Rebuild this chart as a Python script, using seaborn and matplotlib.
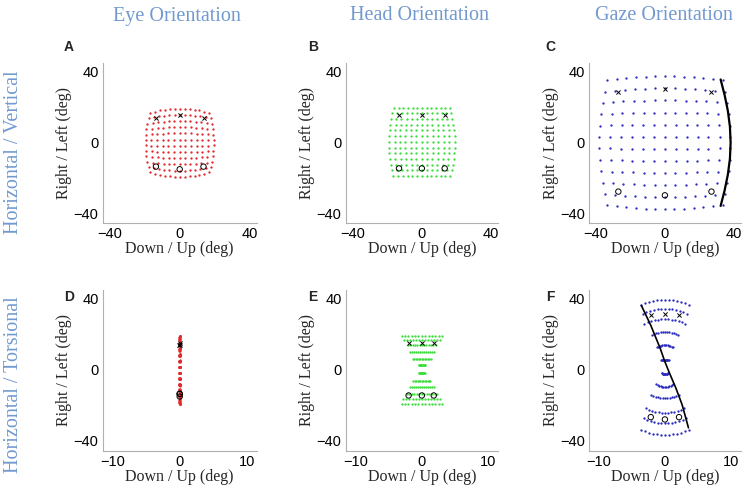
import numpy as np
import matplotlib
matplotlib.use("Agg")
import matplotlib.pyplot as plt
import seaborn as sns
import pandas as pd

# ---------------- data ----------------
# Eye (A / D): 13 columns x 12 rows grid, barrel-shaped
eye_cols = [-19.5, -16.25, -13.0, -9.75, -6.5, -3.25, 0.0, 3.25, 6.5, 9.75, 13.0, 16.25, 19.5]
eye_rows = [19.3, 15.8, 12.3, 8.8, 5.3, 1.75, -1.75, -5.3, -8.8, -12.3, -15.8, -19.3]
eye_shrink_x = 0.13
eye_shrink_y = 0.13
eye_torsion = [0.06, 0.05, 0.04, 0.03, 0.02, 0.01, 0.0, -0.01, -0.02, -0.03, -0.04, -0.05, -0.06]

# Head (B)
head_cols = [-19.0, -15.8, -12.7, -9.5, -6.3, -3.2, 0.0, 3.2, 6.3, 9.5, 12.7, 15.8, 19.0]
head_rows = [19.7, 16.5, 13.3, 10.1, 6.9, 3.7, 0.45, -2.8, -6.0, -9.2, -12.4, -15.6, -18.8]
head_shrink_x = 0.15
head_shrink_y = 0.0

# Gaze (C)
gaze_cols = [-38.0, -31.7, -25.3, -19.0, -12.7, -6.3, 0.0, 6.3, 12.7, 19.0, 25.3, 31.7, 38.0]
gaze_rows = [37.5, 30.7, 23.9, 17.0, 10.2, 3.4, -3.4, -10.2, -17.0, -23.9, -30.7, -37.5]
gaze_shrink_x = 0.12
gaze_shrink_y = 0.06
gaze_arc_x = [32.3, 34.6, 36.5, 37.7, 38.1, 37.7, 36.5, 34.6, 32.3]
gaze_arc_y = [35.7, 27.0, 18.0, 9.0, 0.0, -9.0, -18.0, -27.0, -35.7]

# Head torsion (E): rows and half widths
head_tor_rows = [19.3, 16.9, 14.0, 9.9, 6.0, 2.6, -1.8, -6.1, -9.8, -13.4, -16.5, -19.1]
head_tor_halfwidth = [3.05, 2.7, 2.1, 1.8, 1.35, 0.5, 0.45, 1.3, 1.8, 2.3, 2.8, 3.05]

# Gaze torsion (F): arcs (apex y, half width, sag at ends)
gaze_tor_rows = [39.5, 34.4, 28.5, 21.4, 14.0, 5.6, -2.2, -9.5, -16.0, -24.2, -30.0, -36.7]
gaze_tor_halfwidth = [3.6, 3.35, 3.1, 2.0, 1.2, 0.55, 0.5, 1.3, 2.1, 2.9, 3.2, 3.6]
gaze_tor_sag = [3.0, 2.8, 2.5, 1.9, 1.3, 0.3, 0.3, 1.3, 1.9, 2.5, 2.8, 3.0]
gaze_tor_line_x = [-3.57, -2.14, -0.71, 0.0, 0.71, 1.67, 2.61, 3.57]
gaze_tor_line_y = [36.3, 25.1, 12.1, 4.6, -1.9, -10.3, -19.6, -32.6]

# Markers (x = upper targets, o = lower targets)
eye_xm_x, eye_xm_y = [-13.6, 0.0, 13.6], [14.1, 15.4, 14.1]
eye_om_x, eye_om_y = [-13.6, 0.0, 13.6], [-13.5, -15.0, -13.5]
eyet_xm_x, eyet_om_x = [-0.03, 0.0, 0.03], [-0.03, 0.0, 0.03]
head_xm_x, head_xm_y = [-13.2, 0.0, 13.2], [15.5, 15.5, 15.5]
head_om_x, head_om_y = [-13.2, 0.0, 13.2], [-14.5, -14.5, -14.5]
gaze_xm_x, gaze_xm_y = [-27.0, 0.0, 27.0], [28.5, 30.4, 28.5]
gaze_om_x, gaze_om_y = [-27.0, 0.0, 27.0], [-27.6, -29.7, -27.6]
headt_xm_x, headt_xm_y = [-2.0, 0.0, 1.9], [15.3, 15.3, 15.3]
headt_om_x, headt_om_y = [-2.0, 0.0, 1.8], [-14.4, -14.4, -14.4]
gazet_xm_x, gazet_xm_y = [-2.14, 0.0, 2.2], [30.9, 31.3, 30.9]
gazet_om_x, gazet_om_y = [-2.14, 0.0, 2.14], [-26.6, -27.9, -26.6]

col_titles = ["Eye Orientation", "Head Orientation", "Gaze Orientation"]
row_titles = ["Horizontal / Vertical", "Horizontal / Torsional"]
panel_letters = ["A", "B", "C", "D", "E", "F"]

RED, GREEN, BLUE = "#e02a2e", "#3ddd3d", "#2a2ac0"
TITLE_C = "#7199d0"


def grid_df(cols, rows, sx, sy, xvals=None):
    cmax = max(abs(c) for c in cols)
    rmax = max(abs(r) for r in rows)
    xs, ys = [], []
    for r in rows:
        for i, c in enumerate(cols):
            xs.append(c * (1 - sx * (r / rmax) ** 2) if xvals is None else xvals[i])
            ys.append(r * (1 - sy * (c / cmax) ** 2))
    return pd.DataFrame({"x": xs, "y": ys})


def rows_df(rows, halfw, sag=None, n=13):
    xs, ys = [], []
    for k, (r, h) in enumerate(zip(rows, halfw)):
        for t in np.linspace(-1, 1, n):
            xs.append(t * h)
            s = 0 if sag is None else sag[k] * t ** 2
            ys.append(r - np.sign(r) * s)
    return pd.DataFrame({"x": xs, "y": ys})


sns.set_style("white")
plt.rcParams["font.family"] = ["Liberation Sans", "DejaVu Sans"]

fig = plt.figure(figsize=(7.45, 4.86), dpi=100)
W, H = 745.0, 486.0


def make_ax(left, right, top, bottom):
    return fig.add_axes([left / W, 1 - bottom / H, (right - left) / W, (bottom - top) / H])


axA = make_ax(102.7, 256.7, 63, 223.3)
axB = make_ax(345.7, 498.0, 63, 223.3)
axC = make_ax(589.0, 740.8, 63, 223.3)
axD = make_ax(102.7, 256.7, 290, 450.7)
axE = make_ax(345.7, 498.0, 290, 450.7)
axF = make_ax(589.0, 740.8, 290, 450.7)

serif = ["Liberation Serif", "DejaVu Serif"]


def style(ax, wide):
    if wide:
        ax.set_xlim(-44, 44)
        ax.set_xticks([-40, 0, 40])
        ax.set_xticks([-20, 20], minor=True)
    else:
        ax.set_xlim(-11.5, 11.5)
        ax.set_xticks([-10, 0, 10])
        ax.set_xticks([-5, 5], minor=True)
    ax.set_ylim(-45.5, 45)
    ax.set_yticks([-40, 0, 40])
    ax.set_yticks([-30, -20, -10, 10, 20, 30], minor=True)
    for s in ["top", "right"]:
        ax.spines[s].set_visible(False)
    for s in ["left", "bottom"]:
        ax.spines[s].set_color("#b0b0b0")
        ax.spines[s].set_linewidth(0.8)
    ax.tick_params(which="both", direction="in", color="#b0b0b0", length=3, width=0.6,
                   labelsize=10.5, pad=3, labelcolor="black")
    ax.set_xlabel("Down / Up (deg)", family=serif, fontsize=11.5, labelpad=0)
    ax.set_ylabel("Right / Left (deg)", family=serif, fontsize=11.5, labelpad=1)
    ax.grid(False)


def marks(ax, xx, xy, ox, oy):
    sns.scatterplot(x=xx, y=xy, ax=ax, marker="x", color="black", s=9, linewidth=0.7, zorder=5)
    sns.scatterplot(x=ox, y=oy, ax=ax, marker="o", facecolor="none", edgecolor="black",
                    s=15, linewidth=0.7, zorder=5)


dot = dict(s=2.8, linewidth=0, legend=False)

dA = grid_df(eye_cols, eye_rows, eye_shrink_x, eye_shrink_y)
sns.scatterplot(data=dA, x="x", y="y", ax=axA, color=RED, **dot)
marks(axA, eye_xm_x, eye_xm_y, eye_om_x, eye_om_y)

dB = grid_df(head_cols, head_rows, head_shrink_x, head_shrink_y)
sns.scatterplot(data=dB, x="x", y="y", ax=axB, color=GREEN, **dot)
marks(axB, head_xm_x, head_xm_y, head_om_x, head_om_y)

dC = grid_df(gaze_cols, gaze_rows, gaze_shrink_x, gaze_shrink_y)
sns.scatterplot(data=dC, x="x", y="y", ax=axC, color=BLUE, **dot)
sns.lineplot(x=gaze_arc_x, y=gaze_arc_y, ax=axC, sort=False, estimator=None, color="black", linewidth=1.6)
marks(axC, gaze_xm_x, gaze_xm_y, gaze_om_x, gaze_om_y)

dD = grid_df(eye_cols, eye_rows, eye_shrink_x, eye_shrink_y, xvals=eye_torsion)
sns.scatterplot(data=dD, x="x", y="y", ax=axD, color=RED, **dot)
marks(axD, eyet_xm_x, eye_xm_y, eyet_om_x, eye_om_y)

dE = rows_df(head_tor_rows, head_tor_halfwidth)
sns.scatterplot(data=dE, x="x", y="y", ax=axE, color=GREEN, **dot)
marks(axE, headt_xm_x, headt_xm_y, headt_om_x, headt_om_y)

dF = rows_df(gaze_tor_rows, gaze_tor_halfwidth, gaze_tor_sag)
sns.scatterplot(data=dF, x="x", y="y", ax=axF, color=BLUE, **dot)
sns.lineplot(x=gaze_tor_line_x, y=gaze_tor_line_y, ax=axF, sort=False, estimator=None, color="black", linewidth=1.2)
marks(axF, gazet_xm_x, gazet_xm_y, gazet_om_x, gazet_om_y)

for ax, wide in [(axA, True), (axB, True), (axC, True), (axD, False), (axE, False), (axF, False)]:
    style(ax, wide)

for xc, t in zip([177, 420, 664], col_titles):
    fig.text(xc / W, 1 - 16 / H, t, ha="center", va="center", family=serif, fontsize=14.5, color=TITLE_C)
for yc, t in zip([152, 385], row_titles):
    fig.text(14 / W, 1 - yc / H, t, ha="center", va="center", rotation=90, family=serif,
             fontsize=14.5, color=TITLE_C)
for (xc, yc), t in zip([(69, 47), (313, 47), (550, 47), (69, 297), (313, 297), (550, 297)], panel_letters):
    fig.text(xc / W, 1 - yc / H, t, ha="center", va="center", fontsize=10, fontweight="bold")

fig.savefig("out.png", dpi=100)
